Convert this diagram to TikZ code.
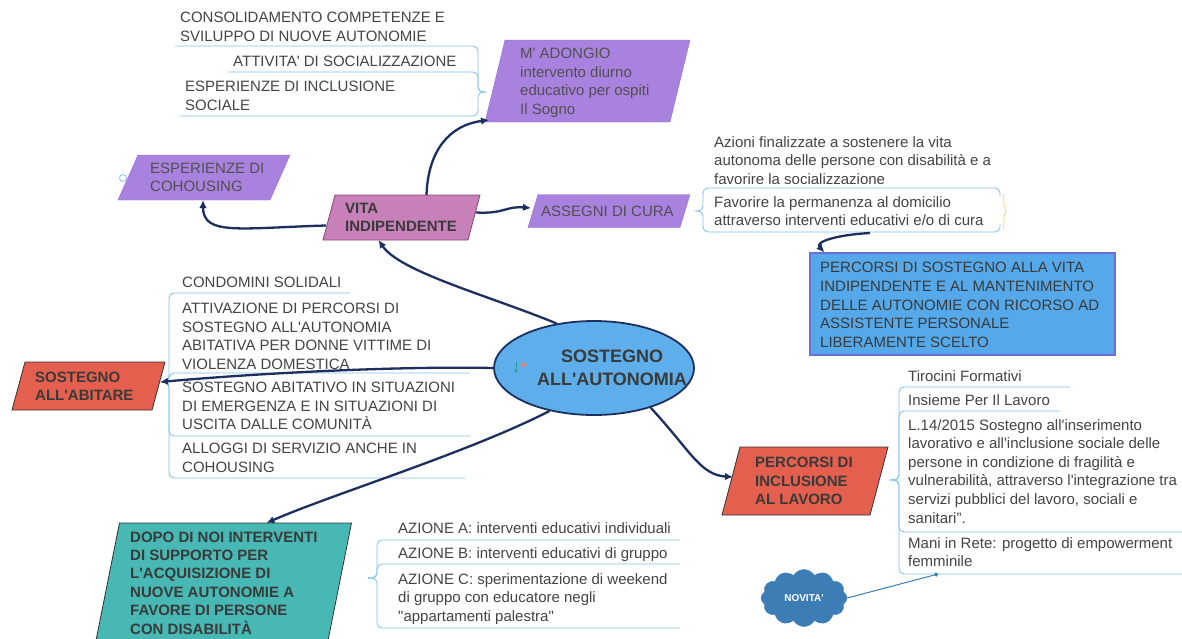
\documentclass[tikz,border=0pt]{standalone}
\usepackage{fontspec}
\setmainfont{Liberation Sans}
\usetikzlibrary{shapes.geometric,shapes.symbols,arrows.meta}
\definecolor{navy}{HTML}{1D2F5E}
\definecolor{brc}{HTML}{86C3EA}
\definecolor{txt}{HTML}{444444}
\definecolor{dtxt}{HTML}{3A3A3A}
\definecolor{ptxt}{HTML}{505050}
\definecolor{purp}{HTML}{A982E0}
\definecolor{purpd}{HTML}{9670D0}
\definecolor{mauve}{HTML}{C880B8}
\definecolor{mauved}{HTML}{7D4A77}
\definecolor{redb}{HTML}{E45F4E}
\definecolor{bdark}{HTML}{333333}
\definecolor{teal2}{HTML}{47B8B4}
\definecolor{ellb}{HTML}{5DAEEA}
\definecolor{boxb}{HTML}{55A9EA}
\definecolor{psd}{HTML}{6E6EDB}
\definecolor{cloudb}{HTML}{3C7DB6}
\definecolor{ylw}{HTML}{F3D58A}
\definecolor{icteal}{HTML}{2A9D9A}
\definecolor{icsalm}{HTML}{F08070}
\newcommand\apo{\textquotesingle}
\newcommand\dq{\textquotedbl}
\newcommand\pgbox[7]{%
  \node[minimum width=#4pt, minimum height=#5pt, inner sep=0pt, outer sep=0pt] (#1) at (#2,#3) {};
  \draw[#7] ([xshift=#6pt]#1.north west) -- (#1.north east) -- ([xshift=-#6pt]#1.south east) -- (#1.south west) -- cycle;}
\begin{document}
\begin{tikzpicture}[x=1pt,y=-1pt,
  lt/.style={anchor=north west, inner sep=0pt, align=left, text=txt, font=\fontsize{15}{18.6}\selectfont},
  ct/.style={lt},
  bt/.style={anchor=west, inner sep=0pt, align=left, text=dtxt, font=\bfseries\fontsize{15}{18.4}\selectfont},
  br/.style={draw=brc, line width=0.9pt, rounded corners=5pt},
  conn/.style={draw=navy, line width=2.3pt, -{Latex[length=8pt,width=7.5pt]}}]
\useasboundingbox (0,0) rectangle (1182,638);
\clip (0,0) rectangle (1182,638);
\fill[white] (0,0) rectangle (1182,638);

% ---- cluster A (M'ADONGIO)
\node[ct] (cons) at (180,12) {CONSOLIDAMENTO COMPETENZE E\\SVILUPPO DI NUOVE AUTONOMIE};
\node[ct] (att) at (233,56) {ATTIVITA\apo{} DI SOCIALIZZAZIONE};
\node[ct] (esp) at (185,81) {ESPERIENZE DI INCLUSIONE\\SOCIALE};
\coordinate (pA) at (486,92);
\draw[br] (175,46) -- (478,46) -- (478,92) -- (pA);
\draw[br] (228,72) -- (478,72) -- (478,92) -- (pA);
\draw[br] (180,116) -- (478,116) -- (478,92) -- (pA);
\pgbox{mad}{587.5}{81}{205}{82}{20}{fill=purp, draw=purpd}
\node[lt, text=ptxt] (madt) at (520,48) {M\apo{} ADONGIO\\intervento diurno\\educativo per ospiti\\Il Sogno};

% ---- cohousing
\pgbox{coh}{204}{177.5}{172}{45}{20}{fill=purp, draw=purpd}
\node[ct, anchor=west, text=ptxt] (coht) at (150,177.5) {ESPERIENZE DI\\COHOUSING};
\node[circle, draw=brc, line width=0.8pt, minimum size=7pt, inner sep=0pt] (col) at (123,178) {};

% ---- vita indipendente
\pgbox{vita}{401.5}{217.5}{157}{45}{12}{fill=mauve, draw=mauved, line width=0.8pt}
\node[bt] (vitat) at (345,217.5) {VITA\\INDIPENDENTE};

% ---- assegni di cura
\pgbox{ass}{609}{211}{162}{33}{10}{fill=purp, draw=purpd}
\node[ct, anchor=west, text=ptxt] (asst) at (541,211) {ASSEGNI DI CURA};
\node[lt] (azi) at (714,136) {Azioni finalizzate a sostenere la vita\\autonoma delle persone con disabilità e a\\favorire la socializzazione};
\node[lt] (fav) at (714,196) {Favorire la permanenza al domicilio\\attraverso interventi educativi e/o di cura};
\coordinate (pB) at (695,211);
\draw[br] (pB) -- (703,211) -- (703,188) -- (1000,188) -- (1000,196);
\draw[br] (pB) -- (703,211) -- (703,232) -- (1000,232) -- (1000,224);
\draw[ylw, line width=0.8pt, rounded corners=2pt] (1003,194) -- (1004,197) -- (1004,208) -- (1007,211) -- (1004,214) -- (1004,226) -- (1003,229);
\coordinate (favB) at (870,233);

% ---- percorsi di sostegno
\node[draw=psd, fill=boxb, line width=1.2pt, minimum width=305pt, minimum height=102pt, inner sep=0pt] (ps) at (962.5,304) {};
\node[ct, anchor=west, text=dtxt] (pst) at (820,305) {PERCORSI DI SOSTEGNO ALLA VITA\\INDIPENDENTE E AL MANTENIMENTO\\DELLE AUTONOMIE CON RICORSO AD\\ASSISTENTE PERSONALE\\LIBERAMENTE SCELTO};

% ---- centre
\node[ellipse, draw=navy, line width=1.8pt, fill=ellb, minimum width=200pt, minimum height=94pt, inner sep=0pt] (c) at (594,368) {};
\node[align=center, inner sep=0pt, text=dtxt, font=\bfseries\fontsize{18}{23}\selectfont] (ct) at (612,368) {SOSTEGNO\\ALL\apo{}AUTONOMIA};
\draw[icteal, line width=1pt, -{Stealth[length=3pt,width=3.5pt]}] (516,362) -- (516,373);
\fill[icsalm] (520.5,362) rectangle (521.7,374);
\fill[icsalm] (521.7,362) -- (527,364.5) -- (521.7,367.5) -- cycle;

% ---- sostegno all'abitare
\pgbox{abi}{88.5}{386}{153}{48}{13}{fill=redb, draw=bdark, line width=0.8pt}
\node[bt] (abit) at (35,386) {SOSTEGNO\\ALL\apo{}ABITARE};
\node[ct] (cond) at (182,277) {CONDOMINI SOLIDALI};
\node[ct] (attiv) at (182,303) {ATTIVAZIONE DI PERCORSI DI\\SOSTEGNO ALL\apo{}AUTONOMIA\\ABITATIVA PER DONNE VITTIME DI\\VIOLENZA DOMESTICA};
\node[ct] (sost) at (182,382) {SOSTEGNO ABITATIVO IN SITUAZIONI\\DI EMERGENZA E IN SITUAZIONI DI\\USCITA DALLE COMUNITÀ};
\node[ct] (allog) at (182,443) {ALLOGGI DI SERVIZIO ANCHE IN\\COHOUSING};
\coordinate (pC) at (161,382);
\draw[br] (pC) -- (169,382) -- (169,293) -- (350,293);
\draw[br] (pC) -- (169,382) -- (169,373) -- (470,373);
\draw[br] (pC) -- (169,382) -- (169,436) -- (470,436);
\draw[br] (pC) -- (169,382) -- (169,478) -- (465,478);

% ---- dopo di noi
\pgbox{dopo}{222.5}{588}{258}{130}{26}{fill=teal2, draw=bdark, line width=0.8pt}
\node[bt, anchor=north west] (dopot) at (130,531.5) {DOPO DI NOI INTERVENTI\\DI SUPPORTO PER\\L\apo{}ACQUISIZIONE DI\\NUOVE AUTONOMIE A\\FAVORE DI PERSONE\\CON DISABILITÀ};
\node[lt] (aza) at (398,522) {AZIONE A: interventi educativi individuali};
\node[lt] (azb) at (398,547) {AZIONE B: interventi educativi di gruppo};
\node[lt] (azc) at (398,573) {AZIONE C: sperimentazione di weekend\\di gruppo con educatore negli\\\dq{}appartamenti palestra\dq};
\coordinate (pD) at (368,578);
\draw[br] (pD) -- (377,578) -- (377,540) -- (680,540);
\draw[br] (pD) -- (377,578) -- (377,564) -- (680,564);
\draw[br] (pD) -- (377,578) -- (377,628) -- (680,628);

% ---- percorsi di inclusione al lavoro
\pgbox{lav}{805}{481}{166}{68}{18}{fill=redb, draw=bdark, line width=0.8pt}
\node[bt] (lavt) at (755,481) {PERCORSI DI\\INCLUSIONE\\AL LAVORO};
\node[lt] (tir) at (908,370) {Tirocini Formativi};
\node[lt] (ins) at (908,394) {Insieme Per Il Lavoro};
\node[lt] (l14) at (908,419) {L.14/2015 Sostegno all\apo{}inserimento\\lavorativo e all\apo{}inclusione sociale delle\\persone in condizione di fragilità e\\vulnerabilità, attraverso l\apo{}integrazione tra\\servizi pubblici del lavoro, sociali e\\sanitari”.};
\node[lt] (mani) at (908,537) {Mani in Rete: progetto di empowerment\\femminile};
\coordinate (pE) at (890,480);
\draw[br] (pE) -- (899,480) -- (899,387) -- (1070,387);
\draw[br] (pE) -- (899,480) -- (899,411) -- (1060,411);
\draw[br] (pE) -- (899,480) -- (899,532) -- (1190,532);
\draw[br] (pE) -- (899,480) -- (899,574) -- (1190,574);
\coordinate (maniU) at (938,574);

% ---- novita cloud
\node[cloud, cloud puffs=12, cloud puff arc=120, cloud ignores aspect, fill=cloudb, draw=cloudb, minimum width=86pt, minimum height=57pt, inner sep=0pt, text=white, font=\bfseries\fontsize{10}{11}\selectfont] (nov) at (804,598) {NOVITA\apo};
\draw[cloudb, line width=1pt, -{Circle[length=4pt]}] (nov.east) -- (maniU);

% ---- connectors
\draw[conn] (c.130) .. controls (490,296) and (400,272) .. ([xshift=-23pt]vita.south);
\draw[conn] (c.west) .. controls (400,366) and (260,373) .. ([xshift=-5pt,yshift=4pt]abi.east);
\draw[conn] (c.224) .. controls (470,452) and (330,495) .. ([xshift=44pt]dopo.north);
\draw[conn] (c.-35) .. controls (690,450) and (700,475) .. ([xshift=11pt,yshift=4pt]lav.west);
\draw[conn] ([xshift=3pt,yshift=-8pt]vita.west) .. controls (240,228) and (203,236) .. ([xshift=-1pt]coh.south);
\draw[conn] ([xshift=25pt]vita.north) .. controls (428,150) and (450,125) .. ([xshift=4pt,yshift=2pt]mad.south west);
\draw[conn] ([xshift=-4pt,yshift=5pt]vita.east) .. controls (505,214) and (505,206) .. ([xshift=3pt,yshift=3pt]ass.west);
\draw[conn] (favB) .. controls (835,235) and (815,242) .. ([xshift=15pt]ps.north west);
\end{tikzpicture}
\end{document}
